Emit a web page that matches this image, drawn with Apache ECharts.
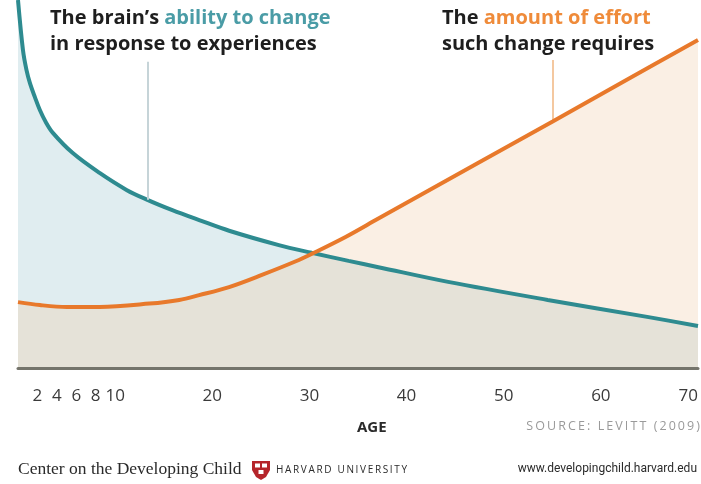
<!DOCTYPE html>
<html>
<head>
<meta charset="utf-8">
<script src="https://cdn.jsdelivr.net/npm/echarts@6/dist/echarts.min.js"></script>
<style>html,body{margin:0;padding:0;background:#fff}#c{width:701px;height:484px}</style>
</head>
<body>
<div id="c"></div>
<script>
// Brain plasticity (ability to change)
const plasticityAges   = [0, 0.51, 0.87, 1.23, 1.74, 2.25, 2.87, 3.59, 5.64, 8.40, 11.17, 13.32, 15.89, 18.65, 21.73, 26.85, 30.23, 34.03, 37.10, 44.28, 54.53, 64.77, 70];
const plasticityValues = [100, 86.4, 81.0, 77.4, 73.6, 70.1, 66.8, 63.9, 58.4, 53.0, 48.4, 45.7, 42.9, 40.2, 37.3, 33.4, 31.3, 29.1, 27.4, 23.4, 18.5, 13.9, 11.4];
// Effort such change requires
const effortAges   = [0, 2.25, 5.02, 8.40, 13.53, 16.60, 18.65, 21.73, 25.11, 28.6, 30.23, 33.72, 37.10, 47.35, 55.04, 62.72, 70];
const effortValues = [17.9, 17.1, 16.6, 16.6, 17.5, 18.5, 19.8, 22.0, 25.3, 29.0, 31.0, 35.6, 40.6, 55.7, 67.0, 78.4, 89.1];
// Tick labels
const ageTicks = [2, 4, 6, 8, 10, 20, 30, 40, 50, 60, 70];
// Leader lines [age, fromValue, toValue]
const plasticityLeader = [13.32, 45.7, 83.2];
const effortLeader = [55.04, 67.0, 83.7];

const zip = (a, b) => a.map((x, i) => [x, b[i]]);
const plasticity = zip(plasticityAges, plasticityValues);
const effort = zip(effortAges, effortValues);
const spaced = (s, sep) => s.split('').join(sep);

const chart = echarts.init(document.getElementById('c'), null, {renderer: 'canvas'});
const titleFont = 'Open Sans';
const SMOOTH = 0.35;
chart.setOption({
  animation: false,
  grid: {left: 18, right: 0, top: 0, bottom: 116, containLabel: false},
  xAxis: {
    type: 'value', min: 0, max: 70, z: 10,
    splitLine: {show: false},
    axisTick: {show: false},
    axisLine: {show: true, onZero: false, lineStyle: {color: '#74746b', width: 3}},
    axisLabel: {
      customValues: ageTicks,
      margin: 20, fontSize: 17, color: '#3a3a3a', fontFamily: 'Open Sans',
      alignMaxLabel: 'right', showMaxLabel: true, showMinLabel: true
    }
  },
  yAxis: {
    type: 'value', min: 0, max: 100, show: false,
    splitLine: {show: false}
  },
  series: [
    { // area under plasticity curve
      type: 'line', data: plasticity, smooth: SMOOTH, showSymbol: false, silent: true,
      lineStyle: {width: 0}, areaStyle: {color: '#e0edf0', opacity: 1}, z: 1
    },
    { // overlap of both areas
      type: 'line', data: effort, smooth: SMOOTH, showSymbol: false, silent: true,
      lineStyle: {width: 0}, areaStyle: {color: '#e5e2d8', opacity: 1}, z: 2,
      blendMode: 'source-atop'
    },
    { // area under effort curve only
      type: 'line', data: effort, smooth: SMOOTH, showSymbol: false, silent: true,
      lineStyle: {width: 0}, areaStyle: {color: '#faefe4', opacity: 1}, z: 3,
      blendMode: 'destination-over'
    },
    {
      type: 'line', data: plasticity, smooth: SMOOTH, showSymbol: false, silent: true,
      lineStyle: {color: '#2e8b90', width: 4}, z: 4,
      markLine: {
        silent: true, symbol: 'none', label: {show: false},
        lineStyle: {color: '#c6d4d8', width: 2, type: 'solid'},
        data: [[{coord: [plasticityLeader[0], plasticityLeader[1]]}, {coord: [plasticityLeader[0], plasticityLeader[2]]}]]
      }
    },
    {
      type: 'line', data: effort, smooth: SMOOTH, showSymbol: false, silent: true,
      lineStyle: {color: '#e8792b', width: 4}, z: 5,
      markLine: {
        silent: true, symbol: 'none', label: {show: false},
        lineStyle: {color: '#f4c8a0', width: 2, type: 'solid'},
        data: [[{coord: [effortLeader[0], effortLeader[1]]}, {coord: [effortLeader[0], effortLeader[2]]}]]
      }
    }
  ],
  graphic: [
    {type: 'text', left: 50, top: 8, z: 10, style: {
      text: '{d|The brain\u2019s }{t|ability to change}\n{d|in response to experiences}',
      rich: {
        d: {fontFamily: titleFont, fontWeight: 'bold', fontSize: 20, fill: '#1e1e1e', lineHeight: 26},
        t: {fontFamily: titleFont, fontWeight: 'bold', fontSize: 20, fill: '#4a9ca6', lineHeight: 26}
      }
    }},
    {type: 'text', left: 442, top: 8, z: 10, style: {
      text: '{d|The }{t|amount of effort}\n{d|such change requires}',
      rich: {
        d: {fontFamily: titleFont, fontWeight: 'bold', fontSize: 20, fill: '#1e1e1e', lineHeight: 26},
        t: {fontFamily: titleFont, fontWeight: 'bold', fontSize: 20, fill: '#ef8b3a', lineHeight: 26}
      }
    }},
    {type: 'text', left: 357, top: 420, z: 10, style: {
      text: 'AGE', fontFamily: 'Open Sans', fontWeight: 'bold', fontSize: 15, fill: '#2a2a2a'
    }},
    {type: 'text', right: 1, top: 420, z: 10, style: {
      text: spaced('SOURCE: LEVITT (2009)', '\u2009'), fontFamily: 'Open Sans', fontSize: 12.5, fill: '#9a9a9a'
    }},
    {type: 'text', left: 18, top: 460, z: 10, style: {
      text: 'Center on the Developing Child', fontFamily: 'Liberation Serif', fontSize: 17.5, fill: '#2a2a2a'
    }},
    {type: 'polygon', z: 10, shape: {points: [[252,461],[270,461],[270,470],[266,477],[261,480],[256,477],[252,470]]}, style: {fill: '#b5252b'}},
    {type: 'rect', z: 11, shape: {x: 255, y: 463.5, width: 5, height: 4}, style: {fill: '#ffffff'}},
    {type: 'rect', z: 11, shape: {x: 262, y: 463.5, width: 5, height: 4}, style: {fill: '#ffffff'}},
    {type: 'rect', z: 11, shape: {x: 258.5, y: 470, width: 5, height: 4}, style: {fill: '#ffffff'}},
    {type: 'text', left: 276, top: 465, z: 10, style: {
      text: spaced('HARVARD UNIVERSITY', '\u2009'), fontFamily: 'Open Sans', fontSize: 10, fill: '#2a2a2a'
    }},
    {type: 'text', right: 4, top: 463, z: 10, style: {
      text: 'www.developingchild.harvard.edu', fontFamily: 'Roboto', fontSize: 12, fill: '#2a2a2a'
    }}
  ]
});
</script>
</body>
</html>
